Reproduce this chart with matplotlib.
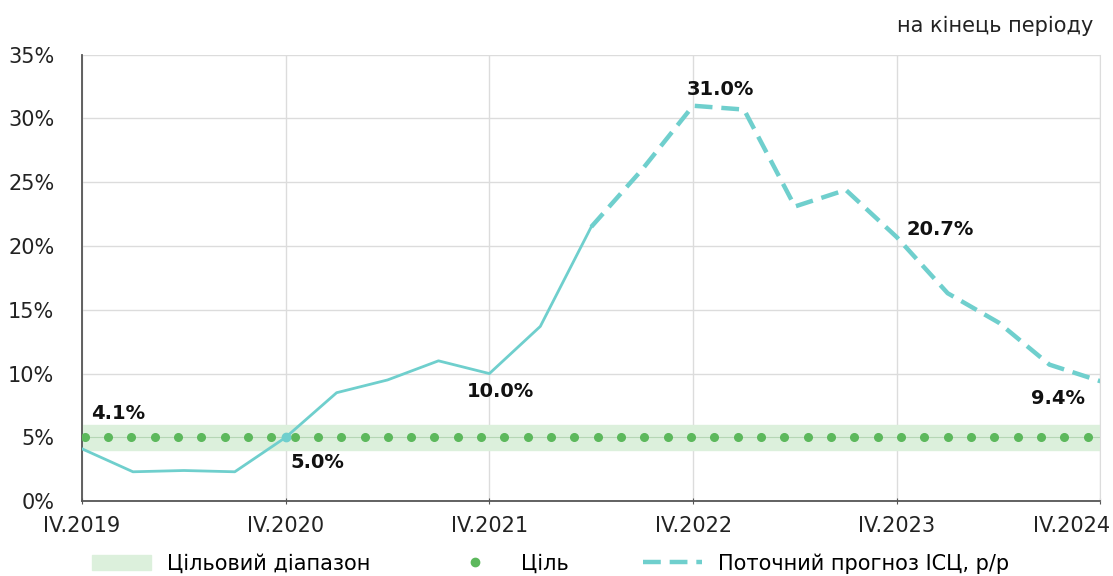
import numpy as np
import matplotlib.pyplot as plt
import matplotlib.transforms as mtransforms
from matplotlib.lines import Line2D
from matplotlib.patches import Patch

plt.rcParams['font.family'] = ['DejaVu Sans']

# quarterly CPI, % y/y, IV.2019 .. IV.2024
quarters = ["IV.2019", "I.2020", "II.2020", "III.2020", "IV.2020",
            "I.2021", "II.2021", "III.2021", "IV.2021",
            "I.2022", "II.2022", "III.2022", "IV.2022",
            "I.2023", "II.2023", "III.2023", "IV.2023",
            "I.2024", "II.2024", "III.2024", "IV.2024"]
cpi_actual = [4.1, 2.3, 2.4, 2.3, 5.0, 8.5, 9.5, 11.0, 10.0, 13.7, 21.5]
cpi_forecast = [21.5, 26.0, 31.0, 30.7, 23.1, 24.4, 20.7, 16.3, 14.0, 10.7, 9.4]
target = [5.0] * 44
band_low, band_high = 4.0, 6.0
tick_labels = ["IV.2019", "IV.2020", "IV.2021", "IV.2022", "IV.2023", "IV.2024"]

cyan = "#6fcfcd"
green = "#5cb85c"
dash = (0, (4, 2))

fig = plt.figure(figsize=(11.13, 5.76), dpi=100)
ax = fig.add_axes([0.0737, 0.130, 0.915, 0.775])

x_all = np.arange(len(quarters))
ax.axhspan(band_low, band_high, color="#dcf0dc", zorder=1)

x_target = np.linspace(0.05, 19.75, len(target))
ax.plot(x_target, target, ls="none", marker="o", ms=5.5, color=green, zorder=3)
ax.axhline(5.0, color="#b5d6b5", lw=0.8, zorder=2)

ax.plot(x_all[:len(cpi_actual)], cpi_actual, color=cyan, lw=2, zorder=4)
ax.plot(x_all[len(cpi_actual) - 1:], cpi_forecast, color=cyan, lw=3.2,
        ls=dash, zorder=4)
ax.plot(4, cpi_actual[4], marker="o", ms=6, color=cyan, zorder=5)

# data labels: (index, value, dx, dy, text)
labels = [(0, 4.1, 0.71, 2.8, "4.1%"),
          (4, 5.0, 0.63, -1.94, "5.0%"),
          (8, 10.0, 0.21, -1.37, "10.0%"),
          (12, 31.0, 0.53, 1.26, "31.0%"),
          (16, 20.7, 0.86, 0.57, "20.7%"),
          (20, 9.4, -0.83, -1.32, "9.4%")]
for xi, yi, dx, dy, t in labels:
    ax.text(xi + dx, yi + dy, t, ha="center", va="center",
            fontsize=14, fontweight="bold", color="#111111", zorder=6)

ax.set_xlim(0, 20)
ax.set_ylim(0, 35)
ax.set_yticks(range(0, 36, 5))
ax.set_yticklabels([f"{v}%" for v in range(0, 36, 5)])
ax.set_xticks(range(0, 21, 4))
ax.set_xticklabels(tick_labels)
ax.grid(True, color="#dcdcdc", lw=1)
ax.set_axisbelow(True)
ax.tick_params(axis="y", labelsize=15, colors="#222222", length=0, pad=20)
ax.tick_params(axis="x", labelsize=15, labelcolor="#222222", pad=8, length=5,
               direction="inout", color="#555555")
last = ax.get_xticklabels()[-1]
last.set_horizontalalignment("right")
last.set_transform(last.get_transform() + mtransforms.ScaledTranslation(0.1, 0, fig.dpi_scale_trans))
for s in ["left", "bottom"]:
    ax.spines[s].set_color("#555555")
    ax.spines[s].set_linewidth(1.3)
ax.spines["top"].set_visible(False)
ax.spines["right"].set_color("#dcdcdc")

fig.text(0.982, 0.955, "на кінець періоду", ha="right", va="center", fontsize=15, color="#222222")

handles = [Patch(color="#dcf0dc"),
           Line2D([], [], ls="none", marker="o", ms=6, color=green),
           Line2D([], [], color=cyan, lw=3.2, ls=dash)]
fig.legend(handles, ["Цільовий діапазон", "Ціль", "Поточний прогноз ІСЦ, р/р"],
           loc="center", bbox_to_anchor=(0.495, 0.022), ncol=3, frameon=False,
           fontsize=15, handlelength=2.8, columnspacing=3.6)

fig.savefig("out.png", dpi=100)
